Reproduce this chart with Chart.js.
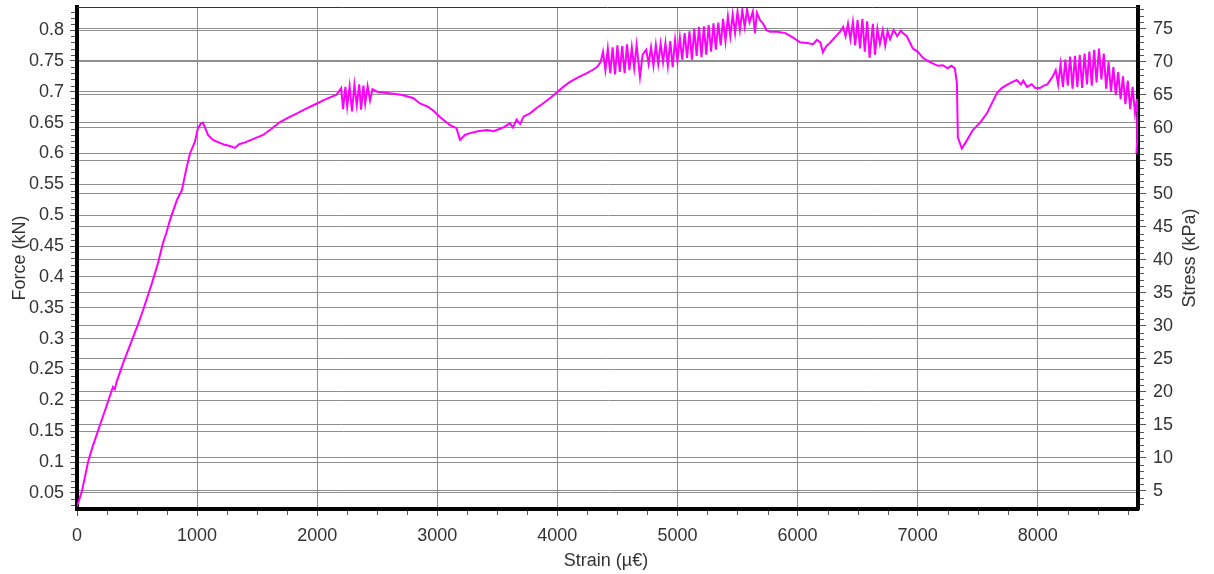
<!DOCTYPE html>
<html>
<head>
<meta charset="utf-8">
<title>Force / Stress vs Strain</title>
<script src="https://cdn.jsdelivr.net/npm/chart.js@4.4.0/dist/chart.umd.min.js"></script>
<style>
    body { margin: 0; background: #ffffff; }
    canvas { display: block; }
</style>
</head>
<body>
<canvas id="forceChart" width="1214" height="574"></canvas>
<script>
// strain (µε), with the matching force (kN)
var strainValues = [
    0, 20, 41, 65, 92, 130, 167, 200, 241, 270, 300, 315, 330, 383, 425, 466, 508, 550, 590, 624,
    674, 716, 745, 774, 833, 874, 908, 941, 982, 1007, 1030, 1049, 1070, 1091, 1132, 1180, 1230, 1274, 1315, 1350,
    1400, 1450, 1500, 1550, 1620, 1690, 1760, 1832, 1900, 1998, 2050, 2107, 2160, 2200, 2215, 2235, 2250, 2270, 2290, 2310,
    2330, 2350, 2365, 2385, 2400, 2420, 2440, 2460, 2500, 2581, 2700, 2798, 2856, 2920, 2964, 3022, 3106, 3160, 3189, 3230,
    3272, 3340, 3414, 3470, 3522, 3560, 3605, 3630, 3660, 3690, 3720, 3772, 3830, 3880, 3940, 3997, 4050, 4105, 4180, 4246,
    4300, 4330, 4360, 4380, 4400, 4420, 4440, 4460, 4480, 4500, 4520, 4540, 4560, 4580, 4600, 4620, 4640, 4660, 4688, 4710,
    4740, 4760, 4780, 4800, 4820, 4840, 4860, 4880, 4900, 4920, 4940, 4960, 4980, 5000, 5020, 5040, 5060, 5080, 5100, 5120,
    5140, 5160, 5180, 5200, 5220, 5240, 5260, 5280, 5300, 5320, 5340, 5360, 5380, 5400, 5420, 5440, 5460, 5480, 5500, 5520,
    5540, 5560, 5580, 5600, 5628, 5645, 5662, 5690, 5712, 5740, 5770, 5830, 5900, 5960, 6020, 6080, 6130, 6161, 6190, 6211,
    6240, 6269, 6310, 6353, 6380, 6400, 6420, 6440, 6461, 6480, 6500, 6520, 6540, 6560, 6580, 6600, 6627, 6645, 6665, 6686,
    6710, 6730, 6750, 6770, 6800, 6830, 6860, 6877, 6910, 6960, 7000, 7044, 7102, 7169, 7210, 7250, 7280, 7310, 7327, 7335,
    7368, 7400, 7460, 7520, 7577, 7620, 7660, 7700, 7743, 7790, 7826, 7860, 7880, 7910, 7950, 7980, 8018, 8050, 8080, 8126,
    8150, 8170, 8190, 8210, 8230, 8250, 8270, 8290, 8310, 8330, 8350, 8370, 8390, 8410, 8430, 8450, 8470, 8490, 8510, 8530,
    8550, 8570, 8590, 8610, 8630, 8650, 8670, 8690, 8710, 8730, 8750, 8770, 8790, 8810, 8826, 8832, 8828, 8822
];
var forceValues = [
    0.028, 0.040, 0.053, 0.075, 0.100, 0.125, 0.146, 0.165, 0.188, 0.205, 0.222, 0.218, 0.230, 0.260, 0.281, 0.302, 0.323, 0.346, 0.370, 0.390,
    0.422, 0.455, 0.472, 0.492, 0.525, 0.541, 0.573, 0.600, 0.619, 0.641, 0.648, 0.650, 0.640, 0.630, 0.622, 0.618, 0.614, 0.612, 0.609, 0.615,
    0.618, 0.622, 0.626, 0.630, 0.640, 0.651, 0.658, 0.665, 0.672, 0.681, 0.686, 0.691, 0.695, 0.706, 0.672, 0.708, 0.676, 0.709, 0.668, 0.711,
    0.678, 0.712, 0.671, 0.710, 0.681, 0.709, 0.686, 0.704, 0.700, 0.698, 0.695, 0.690, 0.681, 0.676, 0.670, 0.659, 0.646, 0.641, 0.622, 0.630,
    0.633, 0.636, 0.638, 0.636, 0.640, 0.643, 0.649, 0.642, 0.655, 0.648, 0.660, 0.665, 0.674, 0.681, 0.690, 0.699, 0.708, 0.716, 0.724, 0.730,
    0.736, 0.740, 0.748, 0.765, 0.735, 0.770, 0.730, 0.772, 0.728, 0.775, 0.732, 0.774, 0.730, 0.777, 0.735, 0.772, 0.738, 0.776, 0.724, 0.760,
    0.768, 0.745, 0.772, 0.742, 0.776, 0.745, 0.778, 0.748, 0.779, 0.742, 0.782, 0.740, 0.784, 0.750, 0.788, 0.752, 0.795, 0.755, 0.798, 0.752,
    0.802, 0.758, 0.805, 0.756, 0.806, 0.760, 0.808, 0.765, 0.811, 0.768, 0.812, 0.775, 0.818, 0.782, 0.822, 0.790, 0.825, 0.795, 0.830, 0.800,
    0.832, 0.805, 0.833, 0.812, 0.830, 0.795, 0.828, 0.815, 0.811, 0.800, 0.797, 0.797, 0.795, 0.788, 0.780, 0.779, 0.777, 0.784, 0.780, 0.764,
    0.774, 0.779, 0.788, 0.797, 0.805, 0.790, 0.810, 0.785, 0.813, 0.775, 0.816, 0.770, 0.818, 0.765, 0.814, 0.755, 0.810, 0.760, 0.802, 0.778,
    0.800, 0.775, 0.798, 0.785, 0.800, 0.790, 0.799, 0.795, 0.790, 0.770, 0.765, 0.755, 0.748, 0.742, 0.743, 0.738, 0.742, 0.738, 0.714, 0.626,
    0.608, 0.618, 0.638, 0.650, 0.665, 0.682, 0.698, 0.706, 0.711, 0.716, 0.719, 0.712, 0.718, 0.708, 0.712, 0.706, 0.706, 0.710, 0.712, 0.725,
    0.735, 0.712, 0.745, 0.708, 0.752, 0.710, 0.757, 0.705, 0.758, 0.708, 0.760, 0.706, 0.762, 0.712, 0.765, 0.710, 0.768, 0.715, 0.770, 0.720,
    0.762, 0.705, 0.748, 0.700, 0.740, 0.695, 0.732, 0.688, 0.725, 0.680, 0.718, 0.672, 0.708, 0.665, 0.688, 0.660, 0.620, 0.600
];

// axis tick labels
var strainTicks = [0, 1000, 2000, 3000, 4000, 5000, 6000, 7000, 8000];
var forceTicks = [0.05, 0.1, 0.15, 0.2, 0.25, 0.3, 0.35, 0.4, 0.45, 0.5, 0.55, 0.6, 0.65, 0.7, 0.75, 0.8];
var stressTicks = [5, 10, 15, 20, 25, 30, 35, 40, 45, 50, 55, 60, 65, 70, 75];

var FONT = "'Liberation Sans', Arial, sans-serif";
var TEXT_COLOR = '#333333';
var GRID_COLOR = '#8e8e8e';

var points = strainValues.map(function(s, i) {
    return { x: s, y: forceValues[i] };
});

// small ticks between the labelled ones, plus axis titles and the thin top frame
var extrasPlugin = {
    id: 'extras',
    afterDraw: function(chart) {
        var ctx = chart.ctx;
        var area = chart.chartArea;
        var xs = chart.scales.x, ys = chart.scales.y, ys2 = chart.scales.y2;
        var k, p;
        ctx.save();
        ctx.strokeStyle = '#555555';
        ctx.lineWidth = 1;
        ctx.beginPath();
        for (k = 1; k * 250 < xs.max; k++) {
            if (k % 4 === 0) continue;
            p = Math.round(xs.getPixelForValue(k * 250)) + 0.5;
            ctx.moveTo(p, area.bottom + 2);
            ctx.lineTo(p, area.bottom + 6);
        }
        for (k = 3; k <= 83; k++) {
            if (k % 5 === 0) continue;
            p = Math.round(ys.getPixelForValue(k / 100)) + 0.5;
            ctx.moveTo(area.left - 6, p);
            ctx.lineTo(area.left - 2, p);
        }
        for (k = 3; k <= 78; k++) {
            if (k % 5 === 0) continue;
            p = Math.round(ys2.getPixelForValue(k)) + 0.5;
            ctx.moveTo(area.right + 2, p);
            ctx.lineTo(area.right + 6, p);
        }
        ctx.stroke();

        // thin top frame
        ctx.strokeStyle = '#333333';
        ctx.beginPath();
        ctx.moveTo(area.left, area.top + 0.5);
        ctx.lineTo(area.right, area.top + 0.5);
        ctx.stroke();

        // axis titles
        var midY = (area.top + area.bottom) / 2;
        ctx.fillStyle = TEXT_COLOR;
        ctx.font = '18px ' + FONT;
        ctx.textAlign = 'center';
        ctx.textBaseline = 'middle';
        ctx.fillText('Strain (µ€)', 606, 561);

        ctx.save();
        ctx.translate(20, midY);
        ctx.rotate(-Math.PI / 2);
        ctx.fillText('Force (kN)', 0, 0);
        ctx.restore();

        ctx.save();
        ctx.translate(1190, midY);
        ctx.rotate(-Math.PI / 2);
        ctx.fillText('Stress (kPa)', 0, 0);
        ctx.restore();

        ctx.restore();
    }
};

function fixedTicks(values) {
    return function(scale) {
        scale.ticks = values.map(function(v) { return { value: v }; });
    };
}

function fitSize(key, size) {
    return function(scale) {
        scale[key] = size;
        scale.paddingTop = 0;
        scale.paddingBottom = 0;
        scale.paddingLeft = 0;
        scale.paddingRight = 0;
    };
}

var ctx = document.getElementById('forceChart').getContext('2d');
var forceChart = new Chart(ctx, {
    type: 'line',
    data: {
        datasets: [{
            label: 'Force',
            data: points,
            yAxisID: 'y',
            borderColor: '#ff00ff',
            borderWidth: 2,
            pointRadius: 0,
            tension: 0,
            fill: false
        }]
    },
    options: {
        responsive: false,
        animation: false,
        layout: { padding: { top: 7, left: 0, right: 0, bottom: 0 } },
        plugins: {
            legend: { display: false },
            tooltip: { enabled: false }
        },
        scales: {
            x: {
                type: 'linear',
                position: 'bottom',
                min: 0,
                max: 8835,
                afterBuildTicks: fixedTicks(strainTicks),
                afterFit: fitSize('height', 65),
                grid: { color: GRID_COLOR, lineWidth: 1, tickLength: 7, tickColor: '#555555' },
                border: { color: '#000000', width: 4 },
                ticks: {
                    padding: 9,
                    color: TEXT_COLOR,
                    font: { family: FONT, size: 18 },
                    maxRotation: 0,
                    autoSkip: false,
                    callback: function(v) { return String(v); }
                }
            },
            y: {
                type: 'linear',
                position: 'left',
                min: 0.024,
                max: 0.8373,
                afterBuildTicks: fixedTicks(forceTicks),
                afterFit: fitSize('width', 77),
                grid: { color: GRID_COLOR, lineWidth: 1, tickLength: 7, tickColor: '#555555' },
                border: { color: '#000000', width: 4 },
                ticks: {
                    padding: 6,
                    color: TEXT_COLOR,
                    font: { family: FONT, size: 18 },
                    autoSkip: false,
                    callback: function(v) { return String(Math.round(v * 100) / 100); }
                }
            },
            y2: {
                type: 'linear',
                position: 'right',
                min: 2.27,
                max: 78.33,
                afterBuildTicks: fixedTicks(stressTicks),
                afterFit: fitSize('width', 76),
                grid: { color: GRID_COLOR, lineWidth: 1, tickLength: 8, tickColor: '#555555', drawOnChartArea: true },
                border: { color: '#000000', width: 4 },
                ticks: {
                    padding: 7,
                    color: TEXT_COLOR,
                    font: { family: FONT, size: 18 },
                    autoSkip: false,
                    callback: function(v) { return String(v); }
                }
            }
        }
    },
    plugins: [extrasPlugin]
});
</script>
</body>
</html>
